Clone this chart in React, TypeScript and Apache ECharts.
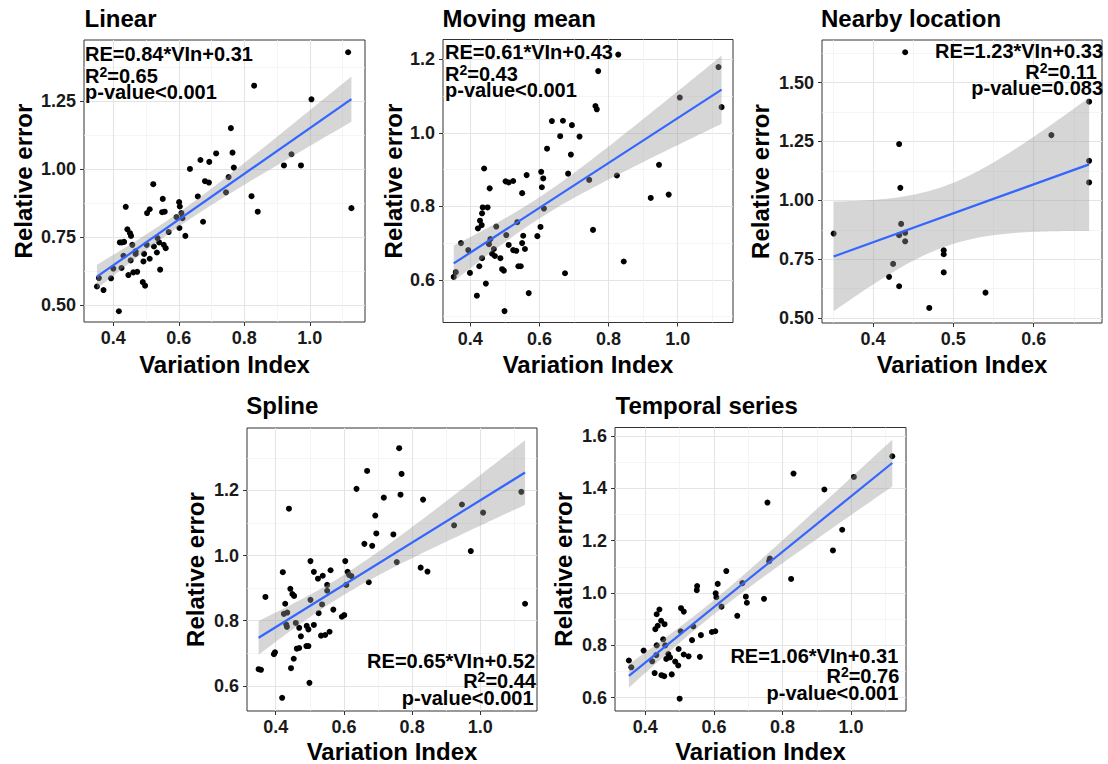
import React, { useEffect, useRef } from "react";
import * as echarts from "echarts";

const FONT = "'Liberation Sans', Arial, Helvetica, sans-serif";

// ---------- data ----------
const panelTitles = ["Linear", "Moving mean", "Nearby location", "Spline", "Temporal series"];
const slopes = [0.84, 0.61, 1.23, 0.65, 1.06];
const intercepts = [0.31, 0.43, 0.33, 0.52, 0.31];
const rSquared = ["0.65", "0.43", "0.11", "0.44", "0.76"];
const pValues = ["p-value<0.001", "p-value<0.001", "p-value=0.083", "p-value<0.001", "p-value<0.001"];

const linearPts: [number, number][] = [
  [1.117, 1.429], [0.83, 1.306], [1.005, 1.256], [0.759, 1.15], [0.764, 1.06], [0.714, 1.057],
  [0.666, 1.033], [0.693, 1.026], [0.768, 1.005], [0.634, 1.0], [0.68, 0.955], [0.692, 0.95],
  [0.752, 0.97], [0.744, 0.914], [0.522, 0.944], [0.921, 1.013], [0.944, 1.054], [0.973, 1.013],
  [0.822, 0.9], [0.841, 0.843], [1.127, 0.856], [0.658, 0.899], [0.551, 0.89], [0.601, 0.878],
  [0.603, 0.862], [0.608, 0.838], [0.611, 0.819], [0.593, 0.823], [0.602, 0.783], [0.62, 0.754],
  [0.674, 0.806], [0.569, 0.768], [0.503, 0.838], [0.511, 0.852], [0.549, 0.841], [0.557, 0.843],
  [0.438, 0.861], [0.443, 0.778], [0.451, 0.764], [0.454, 0.754], [0.42, 0.73], [0.426, 0.73],
  [0.433, 0.732], [0.458, 0.721], [0.431, 0.681], [0.468, 0.697], [0.468, 0.688], [0.502, 0.721],
  [0.524, 0.715], [0.535, 0.746], [0.54, 0.73], [0.554, 0.721], [0.56, 0.709], [0.533, 0.693],
  [0.494, 0.688], [0.511, 0.67], [0.492, 0.66], [0.453, 0.664], [0.425, 0.636], [0.4, 0.634],
  [0.446, 0.61], [0.461, 0.62], [0.473, 0.622], [0.543, 0.63], [0.49, 0.584], [0.497, 0.571],
  [0.393, 0.598], [0.356, 0.599], [0.35, 0.568], [0.37, 0.555], [0.417, 0.477],
];

const movingMeanPts: [number, number][] = [
  [0.828, 1.213], [0.77, 1.168], [1.118, 1.179], [1.127, 1.07], [1.006, 1.096], [0.762, 1.073],
  [0.766, 1.064], [0.636, 1.032], [0.668, 1.033], [0.694, 1.021], [0.66, 0.991], [0.716, 0.99],
  [0.622, 0.957], [0.691, 0.941], [0.44, 0.903], [0.946, 0.913], [0.824, 0.884], [0.744, 0.872],
  [0.683, 0.889], [0.605, 0.894], [0.611, 0.876], [0.607, 0.852], [0.563, 0.885], [0.55, 0.836],
  [0.502, 0.868], [0.511, 0.865], [0.524, 0.869], [0.456, 0.849], [0.922, 0.823], [0.974, 0.832],
  [0.613, 0.794], [0.436, 0.797], [0.45, 0.797], [0.434, 0.781], [0.428, 0.761], [0.422, 0.74],
  [0.433, 0.749], [0.475, 0.745], [0.536, 0.757], [0.603, 0.744], [0.755, 0.736], [0.553, 0.72],
  [0.594, 0.719], [0.504, 0.722], [0.55, 0.7], [0.511, 0.695], [0.524, 0.681], [0.533, 0.679],
  [0.558, 0.684], [0.458, 0.711], [0.454, 0.697], [0.468, 0.684], [0.463, 0.671], [0.471, 0.665],
  [0.487, 0.659], [0.434, 0.659], [0.394, 0.681], [0.373, 0.7], [0.426, 0.637], [0.492, 0.629],
  [0.497, 0.625], [0.539, 0.637], [0.546, 0.637], [0.399, 0.619], [0.358, 0.621], [0.352, 0.608],
  [0.674, 0.618], [0.844, 0.65], [0.445, 0.59], [0.569, 0.564], [0.419, 0.557], [0.499, 0.515],
];

const nearbyPts: [number, number][] = [
  [0.44, 1.629], [0.669, 1.419], [0.622, 1.277], [0.4325, 1.239], [0.669, 1.168], [0.669, 1.076],
  [0.434, 1.053], [0.351, 0.859], [0.435, 0.9], [0.4325, 0.852], [0.44, 0.862], [0.44, 0.826],
  [0.488, 0.788], [0.488, 0.771], [0.425, 0.73], [0.488, 0.694], [0.42, 0.675], [0.4325, 0.635],
  [0.54, 0.608], [0.47, 0.543],
];

const splinePts: [number, number][] = [
  [0.762, 1.33], [0.668, 1.26], [0.769, 1.251], [0.637, 1.205], [0.766, 1.187], [0.717, 1.178],
  [0.832, 1.172], [0.439, 1.144], [1.12, 1.196], [0.946, 1.157], [1.008, 1.132], [0.692, 1.123],
  [0.923, 1.093], [0.695, 1.068], [0.745, 1.065], [0.66, 1.036], [0.683, 1.03], [0.972, 1.014],
  [0.502, 0.983], [0.604, 0.983], [0.755, 0.98], [0.512, 0.95], [0.561, 0.955], [0.611, 0.95],
  [0.615, 0.941], [0.622, 0.937], [0.538, 0.938], [0.524, 0.929], [0.825, 0.963], [0.845, 0.951],
  [0.421, 0.949], [0.673, 0.918], [0.551, 0.91], [0.607, 0.91], [0.551, 0.892], [0.443, 0.898],
  [0.449, 0.882], [0.454, 0.876], [0.37, 0.873], [0.502, 0.864], [0.536, 0.85], [0.569, 0.834],
  [0.428, 0.852], [0.526, 0.823], [0.601, 0.817], [0.594, 0.812], [1.131, 0.852], [0.434, 0.825],
  [0.424, 0.821], [0.431, 0.788], [0.433, 0.781], [0.459, 0.793], [0.469, 0.778], [0.491, 0.784],
  [0.496, 0.773], [0.512, 0.787], [0.474, 0.752], [0.533, 0.754], [0.545, 0.756], [0.558, 0.766],
  [0.49, 0.722], [0.496, 0.722], [0.462, 0.714], [0.469, 0.716], [0.395, 0.697], [0.398, 0.703],
  [0.453, 0.683], [0.35, 0.651], [0.357, 0.649], [0.445, 0.654], [0.499, 0.609], [0.419, 0.563],
];

const temporalPts: [number, number][] = [
  [1.12, 1.523], [0.832, 1.457], [1.008, 1.444], [0.922, 1.396], [0.756, 1.346], [0.974, 1.242],
  [0.947, 1.163], [0.763, 1.132], [0.761, 1.122], [0.825, 1.054], [0.636, 1.084], [0.611, 1.035],
  [0.683, 1.038], [0.551, 1.027], [0.55, 1.011], [0.605, 0.999], [0.607, 0.984], [0.693, 0.986],
  [0.696, 0.963], [0.746, 0.978], [0.622, 0.948], [0.668, 0.913], [0.441, 0.937], [0.504, 0.942],
  [0.512, 0.929], [0.433, 0.919], [0.446, 0.894], [0.456, 0.881], [0.436, 0.875], [0.429, 0.862],
  [0.54, 0.872], [0.503, 0.854], [0.594, 0.851], [0.604, 0.854], [0.562, 0.839], [0.536, 0.82],
  [0.452, 0.823], [0.433, 0.8], [0.458, 0.8], [0.395, 0.78], [0.497, 0.786], [0.467, 0.767],
  [0.472, 0.754], [0.461, 0.748], [0.432, 0.763], [0.512, 0.765], [0.526, 0.758], [0.559, 0.756],
  [0.42, 0.739], [0.487, 0.738], [0.496, 0.723], [0.352, 0.742], [0.359, 0.716], [0.427, 0.694],
  [0.447, 0.686], [0.455, 0.682], [0.477, 0.689], [0.5, 0.596],
];

const xTicksWide = [0.4, 0.6, 0.8, 1.0];
const xMinorWide = [0.3, 0.5, 0.7, 0.9, 1.1];
const xTicksNearby = [0.4, 0.5, 0.6];
const xMinorNearby = [0.35, 0.45, 0.55, 0.65];
const yTicksLinear = [0.5, 0.75, 1.0, 1.25];
const yMinorLinear = [0.625, 0.875, 1.125, 1.375];
const yTicksMoving = [0.6, 0.8, 1.0, 1.2];
const yMinorMoving = [0.5, 0.7, 0.9, 1.1];
const yTicksNearby = [0.5, 0.75, 1.0, 1.25, 1.5];
const yMinorNearby = [0.625, 0.875, 1.125, 1.375, 1.625];
const yTicksSpline = [0.6, 0.8, 1.0, 1.2];
const yMinorSpline = [0.7, 0.9, 1.1, 1.3];
const yTicksTemporal = [0.6, 0.8, 1.0, 1.2, 1.4, 1.6];
const yMinorTemporal = [0.7, 0.9, 1.1, 1.3, 1.5];

const panelPoints = [linearPts, movingMeanPts, nearbyPts, splinePts, temporalPts];
const panelXTicks = [xTicksWide, xTicksWide, xTicksNearby, xTicksWide, xTicksWide];
const panelXMinor = [xMinorWide, xMinorWide, xMinorNearby, xMinorWide, xMinorWide];
const panelYTicks = [yTicksLinear, yTicksMoving, yTicksNearby, yTicksSpline, yTicksTemporal];
const panelYMinor = [yMinorLinear, yMinorMoving, yMinorNearby, yMinorSpline, yMinorTemporal];
const yLabelDecimals = [2, 1, 2, 1, 1];

// ---------- layout (pixels / axis extents) ----------
const layout = [
  { left: 84, top: 40, width: 281, height: 282, xMin: 0.3105, xMax: 1.1685, yMin: 0.4375, yMax: 1.474, xGap: 30, yGap: 49,
    titleX: 84.5, titleY: 18.8, annAlign: "left", ann: [[85, 54], [85, 76.3], [85, 92.3]] },
  { left: 443, top: 39.5, width: 290, height: 283, xMin: 0.321, xMax: 1.16, yMin: 0.484, yMax: 1.254, xGap: 29.5, yGap: 37.5,
    titleX: 442.5, titleY: 18.2, annAlign: "left", ann: [[445, 52.3], [445, 73.7], [445, 89.7]] },
  { left: 822, top: 40, width: 280, height: 283, xMin: 0.3365, xMax: 0.685, yMin: 0.479, yMax: 1.681, xGap: 29, yGap: 50,
    titleX: 821, titleY: 18, annAlign: "right", ann: [[1103, 51.3], [1097, 72.3], [1103, 88]] },
  { left: 247, top: 428, width: 290, height: 285, xMin: 0.316, xMax: 1.166, yMin: 0.5225, yMax: 1.392, xGap: 28, yGap: 40,
    titleX: 246.3, titleY: 405.3, annAlign: "right", ann: [[535, 661.3], [536, 681.3], [533.5, 698]] },
  { left: 615, top: 427.5, width: 291, height: 285, xMin: 0.3115, xMax: 1.16, yMin: 0.549, yMax: 1.633, xGap: 28, yGap: 40,
    titleX: 615.5, titleY: 405.7, annAlign: "right", ann: [[898.3, 656.3], [899.3, 676.3], [898.3, 693]] },
];

// ---------- helpers ----------
function tQuantile975(df: number) {
  const z = 1.959964;
  return z + (z ** 3 + z) / (4 * df) + (5 * z ** 5 + 16 * z ** 3 + 3 * z) / (96 * df * df);
}

// 95% confidence band of the fitted line (as geom_smooth(method = "lm") draws it)
function confidenceBand(pts: [number, number][], a: number, b: number, steps = 60) {
  const n = pts.length;
  const xs = pts.map((p) => p[0]);
  const xbar = xs.reduce((s, v) => s + v, 0) / n;
  const sxx = xs.reduce((s, v) => s + (v - xbar) ** 2, 0);
  const sse = pts.reduce((s, p) => s + (p[1] - (a + b * p[0])) ** 2, 0);
  const sd = Math.sqrt(sse / (n - 2));
  const t = tQuantile975(n - 2);
  const xmin = Math.min(...xs);
  const xmax = Math.max(...xs);
  const out: [number, number, number][] = [];
  for (let i = 0; i <= steps; i++) {
    const x = xmin + ((xmax - xmin) * i) / steps;
    const fit = a + b * x;
    const hw = t * sd * Math.sqrt(1 / n + (x - xbar) ** 2 / sxx);
    out.push([x, fit - hw, fit + hw]);
  }
  return { band: out, xmin, xmax };
}

function buildOption() {
  const grid: any[] = [];
  const xAxis: any[] = [];
  const yAxis: any[] = [];
  const series: any[] = [];
  const graphic: any[] = [];

  const tickLabel = { fontFamily: FONT, fontSize: 18, fontWeight: "bold", color: "#1a1a1a" };
  const axisName = { fontFamily: FONT, fontSize: 24, fontWeight: "bold", color: "#000" };

  panelPoints.forEach((pts, i) => {
    const L = layout[i];
    grid.push({
      left: L.left, top: L.top, width: L.width, height: L.height,
      show: true, backgroundColor: "#fff", borderColor: "#333", borderWidth: 1, containLabel: false,
    });
    const xDec = 1;
    const yDec = yLabelDecimals[i];
    xAxis.push({
      gridIndex: i, type: "value", min: L.xMin, max: L.xMax, position: "bottom",
      name: "Variation Index", nameLocation: "middle", nameGap: L.xGap, nameTextStyle: axisName,
      axisLine: { show: false },
      axisTick: { show: true, inside: false, length: 4, lineStyle: { color: "#333", width: 1 }, customValues: panelXTicks[i] },
      axisLabel: { show: true, margin: 7, ...tickLabel, customValues: panelXTicks[i], formatter: (v: number) => v.toFixed(xDec) },
      splitLine: { show: true, lineStyle: { color: "#e4e4e4", width: 1.1 } },
    });
    xAxis.push({
      gridIndex: i, type: "value", min: L.xMin, max: L.xMax, position: "top",
      axisLine: { show: false }, axisLabel: { show: false },
      axisTick: { show: false, customValues: panelXMinor[i] },
      splitLine: { show: true, lineStyle: { color: "#f0f0f0", width: 0.7 } },
    });
    yAxis.push({
      gridIndex: i, type: "value", min: L.yMin, max: L.yMax, position: "left",
      name: "Relative error", nameLocation: "middle", nameGap: L.yGap, nameTextStyle: axisName,
      axisLine: { show: false },
      axisTick: { show: true, inside: false, length: 4, lineStyle: { color: "#333", width: 1 }, customValues: panelYTicks[i] },
      axisLabel: { show: true, margin: 8, ...tickLabel, customValues: panelYTicks[i], formatter: (v: number) => v.toFixed(yDec) },
      splitLine: { show: true, lineStyle: { color: "#e4e4e4", width: 1.1 } },
    });
    yAxis.push({
      gridIndex: i, type: "value", min: L.yMin, max: L.yMax, position: "right",
      axisLine: { show: false }, axisLabel: { show: false },
      axisTick: { show: false, customValues: panelYMinor[i] },
      splitLine: { show: true, lineStyle: { color: "#f0f0f0", width: 0.7 } },
    });

    const a = intercepts[i];
    const b = slopes[i];
    const { band, xmin, xmax } = confidenceBand(pts, a, b);

    series.push({
      type: "scatter", xAxisIndex: 2 * i, yAxisIndex: 2 * i, z: 2,
      symbolSize: 6, itemStyle: { color: "#000", opacity: 1 }, data: pts, silent: true,
    });
    series.push({
      type: "custom", xAxisIndex: 2 * i, yAxisIndex: 2 * i, z: 3, silent: true,
      data: band, encode: { x: 0, y: [1, 2] },
      renderItem: (params: any, api: any) => {
        if (params.dataIndex !== 0) return null;
        const upper = band.map((d) => api.coord([d[0], d[2]]));
        const lower = band.map((d) => api.coord([d[0], d[1]])).reverse();
        return {
          type: "polygon",
          shape: { points: upper.concat(lower) },
          style: { fill: "rgba(153,153,153,0.4)", stroke: "none" },
        };
      },
    });
    series.push({
      type: "line", xAxisIndex: 2 * i, yAxisIndex: 2 * i, z: 4, silent: true,
      symbol: "none", lineStyle: { color: "#3366FF", width: 2.2 },
      data: [[xmin, a + b * xmin], [xmax, a + b * xmax]],
    });

    graphic.push({
      type: "text", x: L.titleX, y: L.titleY, silent: true,
      style: { text: panelTitles[i], font: `bold 24px ${FONT}`, fill: "#000", align: "left", verticalAlign: "middle" },
    });
    const lines = [
      { text: `RE=${b.toFixed(2)}*VIn+${a.toFixed(2)}` },
      { text: `{m|R}{s|2}{m|=${rSquared[i]}}` },
      { text: pValues[i] },
    ];
    lines.forEach((ln, k) => {
      graphic.push({
        type: "text", x: L.ann[k][0], y: L.ann[k][1], silent: true, z: 10,
        style: {
          text: ln.text, font: `bold 20px ${FONT}`, fill: "#000",
          align: L.annAlign, verticalAlign: "middle",
          rich: {
            m: { fontFamily: FONT, fontSize: 20, fontWeight: "bold", fill: "#000", lineHeight: 22 },
            s: { fontFamily: FONT, fontSize: 14, fontWeight: "bold", fill: "#000", lineHeight: 14, verticalAlign: "top" },
          },
        },
      });
    });
  });

  return {
    animation: false,
    backgroundColor: "#fff",
    grid, xAxis, yAxis, series, graphic,
  };
}

export default function App() {
  const ref = useRef<HTMLDivElement>(null);
  useEffect(() => {
    if (!ref.current) return;
    const chart = echarts.init(ref.current, undefined, { renderer: "svg" });
    chart.setOption(buildOption() as any);
    return () => chart.dispose();
  }, []);
  return (
    <div
      ref={ref}
      style={{ position: "fixed", left: 0, top: 0, width: 1108, height: 764, background: "#fff" }}
    />
  );
}
